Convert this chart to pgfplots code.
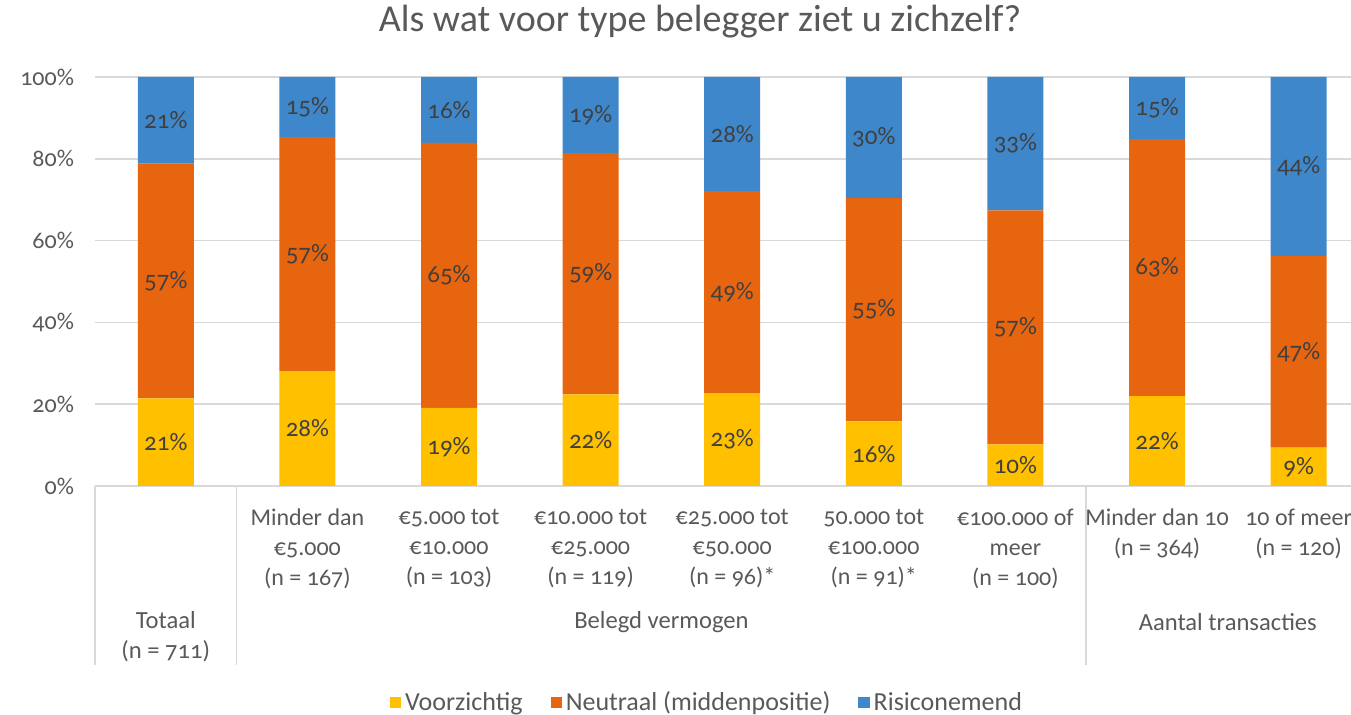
\documentclass[border=0pt]{standalone}
\usepackage{pgfplots}
\pgfplotsset{compat=1.18}
\usepackage{pgfplotstable}
\usepackage{fontspec}
\setmainfont{Carlito}[Numbers=OldStyle]

\definecolor{cYellow}{HTML}{FFC000}
\definecolor{cOrange}{HTML}{E8650F}
\definecolor{cBlue}{HTML}{3E87CB}
\definecolor{cText}{HTML}{595959}
\definecolor{cLabel}{HTML}{404040}
\definecolor{cGrid}{HTML}{D9D9D9}

% a = Voorzichtig, b = Neutraal (middenpositie), c = Risiconemend (in %)
\pgfplotstableread{
x a    b    c
0 21.4 57.4 21.2
1 28.1 57.2 14.7
2 19.1 64.8 16.1
3 22.4 59.0 18.6
4 22.7 49.4 27.9
5 15.8 54.6 29.6
6 10.2 57.2 32.6
7 22.0 62.8 15.2
8  9.4 46.8 43.8
}\data

\pgfplotsset{
  sqlegend/.style={legend image code/.code={\fill[##1] (0pt,-2.8pt) rectangle (5.6pt,2.8pt);}},
  seglabel/.style={
    visualization depends on={rawy\as\segval},
    nodes near coords={\pgfmathprintnumber[fixed,precision=0,assume math mode=true]{\segval}\%},
    every node near coord/.append style={anchor=center, text=cLabel,
      font=\fontsize{12.5}{14}\selectfont},
  },
}

\begin{document}
\begin{tikzpicture}[font=\fontsize{12}{15}\selectfont]
\useasboundingbox (-47.5pt,-114.5pt) rectangle (628pt,243pt);
\begin{axis}[
  at={(0,0)}, anchor=south west,
  scale only axis, width=628pt, height=204.5pt,
  ybar stacked, bar width=28pt,
  xmin=-0.5, xmax=8.37, ymin=0, ymax=100,
  axis line style={draw=none},
  ytick={0,20,...,100},
  yticklabel={\pgfmathprintnumber[assume math mode=true]{\tick}\%},
  yticklabel style={text=cText, font=\fontsize{12}{14}\selectfont, xshift=-7pt},
  ymajorgrids, major grid style={draw=cGrid, line width=0.8pt},
  ytick style={draw=none},
  major tick length=0pt,
  xtick={0,...,8},
  xticklabels={{},
    {Minder dan\\€5.000\\(n = 167)},
    {€5.000 tot\\€10.000\\(n = 103)},
    {€10.000 tot\\€25.000\\(n = 119)},
    {€25.000 tot\\€50.000\\(n = 96)*},
    {50.000 tot\\€100.000\\(n = 91)*},
    {€100.000 of\\meer\\(n = 100)},
    {Minder dan 10\\(n = 364)},
    {10 of meer\\(n = 120)}},
  xticklabel style={align=center, text=cText, font=\fontsize{12}{15}\selectfont, yshift=-8pt},
  xtick style={draw=cGrid, line width=0.8pt},
  xtick pos=bottom,
  extra x ticks={-0.5,0.5,6.5},
  extra x tick labels={},
  extra x tick style={grid=none, major tick length=89.5pt, tick align=outside},
  clip=false,
  legend style={at={(0.488,-0.53)}, anchor=center, draw=none, fill=none,
    legend columns=3, text=cText, font=\fontsize{13}{15}\selectfont,
    /tikz/every even column/.append style={column sep=12pt}},
]
\addplot[fill=cYellow, draw=none, sqlegend, seglabel] table[x=x, y=a] {\data};
\addlegendentry{Voorzichtig}
\addplot[fill=cOrange, draw=none, sqlegend, seglabel] table[x=x, y=b] {\data};
\addlegendentry{Neutraal (middenpositie)\hspace{12pt}}
\addplot[fill=cBlue, draw=none, sqlegend, seglabel] table[x=x, y=c] {\data};
\addlegendentry{Risiconemend}

% group labels of the category axis
\node[text=cText, align=center, font=\fontsize{12.3}{15}\selectfont] at (axis cs:0,-36.9) {Totaal\\(n = 711)};
\node[text=cText, font=\fontsize{12.3}{15}\selectfont] at (axis cs:3.5,-33.3) {Belegd vermogen};
\node[text=cText, font=\fontsize{12.3}{15}\selectfont] at (axis cs:7.5,-33.3) {Aantal transacties};
\end{axis}
\node[text=cText, font=\fontsize{19}{22}\selectfont] at (302.5pt,232pt)
  {Als wat voor type belegger ziet u zichzelf?};
\end{tikzpicture}
\end{document}
